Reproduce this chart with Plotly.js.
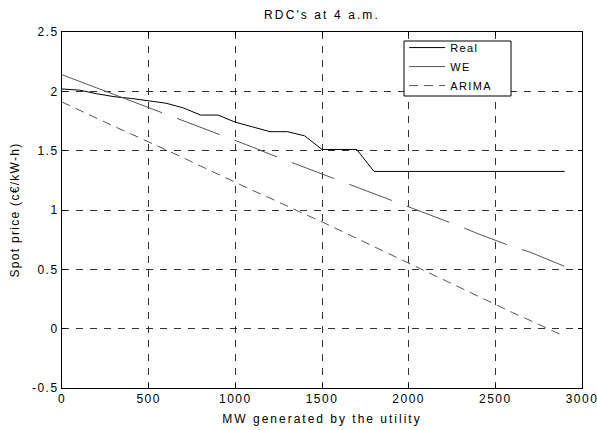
<!DOCTYPE html>
<html>
<head>
<meta charset="utf-8">
<script src="https://cdn.plot.ly/plotly-3.0.1.min.js"></script>
<style>
html,body{margin:0;padding:0;background:#fff;}
#chart{width:597px;height:430px;}
.xtick text, .ytick text{letter-spacing:1.5px;}
text.gtitle{letter-spacing:2.1px;}
text.xtitle{letter-spacing:2px;}
text.ytitle{letter-spacing:1.3px;}
text.legendtext{letter-spacing:1.4px;}
</style>
</head>
<body>
<div id="chart"></div>
<script>
// MW generated by the utility
const mw = [0,100,200,300,400,500,600,700,800,900,1000,1100,1200,1300,1400,1500,1600,1700,1800,1900,2000,2100,2200,2300,2400,2500,2600,2700,2800,2900];
// Spot price (c€/kW-h)
const realPrice = [2.02,2.01,1.98,1.955,1.94,1.92,1.90,1.86,1.80,1.80,1.74,1.70,1.66,1.66,1.625,1.51,1.51,1.51,1.325,1.325,1.325,1.325,1.325,1.325,1.325,1.325,1.325,1.325,1.325,1.325];
const wePrice = [2.14,2.085,2.03,1.975,1.92,1.865,1.81,1.755,1.70,1.645,1.585,1.53,1.47,1.415,1.36,1.30,1.245,1.195,1.14,1.085,1.03,0.975,0.92,0.86,0.80,0.745,0.69,0.645,0.585,0.525];
const arimaPrice = [1.91,1.84,1.775,1.705,1.64,1.575,1.505,1.44,1.37,1.30,1.235,1.165,1.10,1.03,0.965,0.90,0.83,0.76,0.69,0.62,0.555,0.485,0.415,0.345,0.275,0.205,0.135,0.07,0.0,-0.065];
const seriesNames = ["Real","WE","ARIMA"];
const xTickVals = [0,500,1000,1500,2000,2500,3000];
const xTickText = ["0","500","1000","1500","2000","2500","3000"];
const yTickVals = [-0.5,0,0.5,1,1.5,2,2.5];
const yTickText = ["-0.5","0","0.5","1","1.5","2","2.5"];

const font = {family: "Liberation Sans, Arial, sans-serif", size: 12, color: "#000"};
const legendFont = {family: "Liberation Sans, Arial, sans-serif", size: 11, color: "#000"};

// long-dash style of the WE curve (first dash longer, as in the original rendering)
const weDash = ["107px","16px"].concat(Array(10).fill("45.5px,16px")).join(",");

const traces = [
  {x: mw, y: realPrice, name: seriesNames[0], mode: "lines", line: {color: "#000", width: 1}},
  {x: mw, y: wePrice, name: seriesNames[1], mode: "lines", line: {color: "#555", width: 1, dash: weDash}},
  {x: mw, y: arimaPrice, name: seriesNames[2], mode: "lines", line: {color: "#555", width: 1, dash: "9px,6px"}}
];

const axisCommon = {
  showline: true, mirror: "ticks", linecolor: "#000", linewidth: 1,
  ticks: "inside", ticklen: 4, tickcolor: "#000",
  showgrid: true, gridcolor: "#333", gridwidth: 1, griddash: "7px,7px",
  zeroline: false, tickfont: font, tickmode: "array", ticklabeloverflow: "allow"
};

const layout = {
  width: 597, height: 430,
  margin: {l: 62, r: 15, t: 32, b: 42},
  paper_bgcolor: "#fff", plot_bgcolor: "#fff",
  font: font,
  showlegend: true,
  title: {text: "RDC's at 4 a.m.", font: font, x: 0.5, xref: "paper", xanchor: "center", y: 1 - 15/430, yanchor: "middle", yref: "container"},
  xaxis: Object.assign({}, axisCommon, {range: [0, 3000], tickvals: xTickVals, ticktext: xTickText,
    title: {text: "MW generated by the utility", font: font, standoff: 9}}),
  yaxis: Object.assign({}, axisCommon, {range: [-0.5, 2.5], tickvals: yTickVals, ticktext: yTickText,
    title: {text: "Spot price (c€/kW-h)", font: font, standoff: 9}}),
  legend: {x: 0.658, y: 0.997, xanchor: "left", yanchor: "top", bgcolor: "rgba(0,0,0,0)",
    borderwidth: 0, font: legendFont, tracegroupgap: 0, itemwidth: 36},
  // legend frame
  shapes: [{type: "rect", xref: "paper", yref: "paper", x0: 0.6577, x1: 0.8635, y0: 0.8202, y1: 0.9747,
    layer: "above", fillcolor: "#fff", line: {color: "#000", width: 1}}]
};

Plotly.newPlot("chart", traces, layout, {displayModeBar: false, staticPlot: true});
</script>
</body>
</html>
